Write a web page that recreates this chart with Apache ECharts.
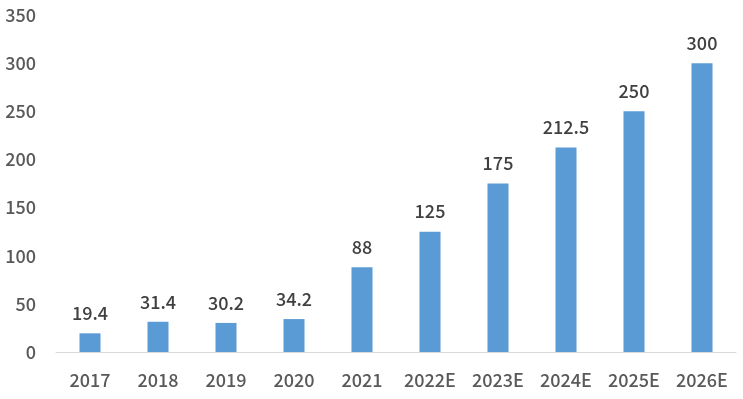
<!DOCTYPE html>
<html>
<head>
<meta charset="utf-8">
<script src="https://cdn.jsdelivr.net/npm/echarts@6/dist/echarts.min.js"></script>
<style>
  html, body { margin: 0; padding: 0; background: #fff; }
  #chart { width: 743px; height: 399px; }
</style>
</head>
<body>
<div id="chart"></div>
<script>
const years = ["2017", "2018", "2019", "2020", "2021", "2022E", "2023E", "2024E", "2025E", "2026E"];
const values = [19.4, 31.4, 30.2, 34.2, 88, 125, 175, 212.5, 250, 300];

const chart = echarts.init(document.getElementById("chart"));
const font = "'Noto Sans CJK SC', 'Noto Sans', sans-serif";

chart.setOption({
  backgroundColor: "#ffffff",
  animation: false,
  grid: { left: 56, right: 7, top: 15, bottom: 47 },
  xAxis: {
    type: "category",
    data: years,
    axisLine: { lineStyle: { color: "#d9d9d9", width: 1 } },
    axisTick: { show: false },
    axisLabel: { color: "#595959", fontSize: 18, fontWeight: 500, fontFamily: font, margin: 19 }
  },
  yAxis: {
    type: "value",
    min: 0,
    max: 350,
    interval: 50,
    axisLine: { show: false },
    axisTick: { show: false },
    splitLine: { show: false },
    axisLabel: { color: "#595959", fontSize: 18, fontWeight: 500, fontFamily: font, margin: 20 }
  },
  series: [
    {
      type: "bar",
      data: values,
      barWidth: 21,
      itemStyle: { color: "#5b9bd5" },
      label: {
        show: true,
        position: "top",
        distance: 11,
        color: "#404040",
        fontSize: 18,
        fontWeight: 500,
        fontFamily: font
      }
    }
  ]
});
</script>
</body>
</html>
